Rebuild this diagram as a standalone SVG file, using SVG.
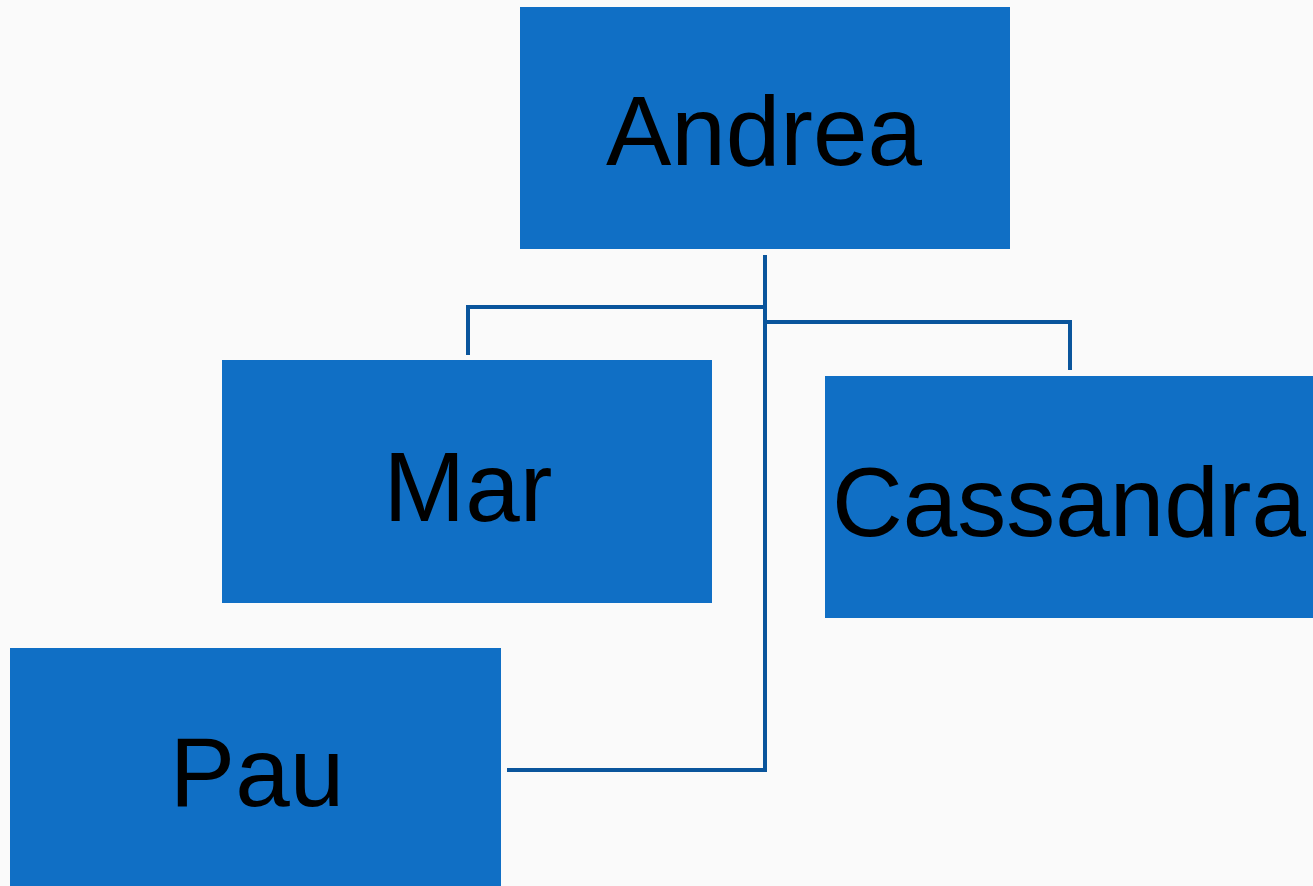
<svg xmlns="http://www.w3.org/2000/svg" width="1313" height="886" viewBox="0 0 1313 886">
<style>
.box{fill:#106fc5;}
.lbl{font-family:"Liberation Sans",Arial,sans-serif;font-size:98px;fill:#000;text-anchor:middle;}
.conn{fill:none;stroke:#0a559c;stroke-width:4;}
</style>
<rect width="1313" height="886" fill="#fafafa"/>
<g id="connectors">
<polyline class="conn" points="765,255 765,770 507,770"/>
<polyline class="conn" points="765,307 468,307 468,355"/>
<polyline class="conn" points="765,322 1070,322 1070,370"/>
</g>
<g id="andrea"><rect class="box" x="520" y="7" width="490" height="242"/><text class="lbl" x="764" y="165">Andrea</text></g>
<g id="mar"><rect class="box" x="222" y="360" width="490" height="243"/><text class="lbl" x="468" y="521">Mar</text></g>
<g id="cassandra"><rect class="box" x="825" y="376" width="490" height="242"/><text class="lbl" x="1069" y="536">Cassandra</text></g>
<g id="pau"><rect class="box" x="10" y="648" width="491" height="240"/><text class="lbl" x="257" y="806">Pau</text></g>
</svg>
